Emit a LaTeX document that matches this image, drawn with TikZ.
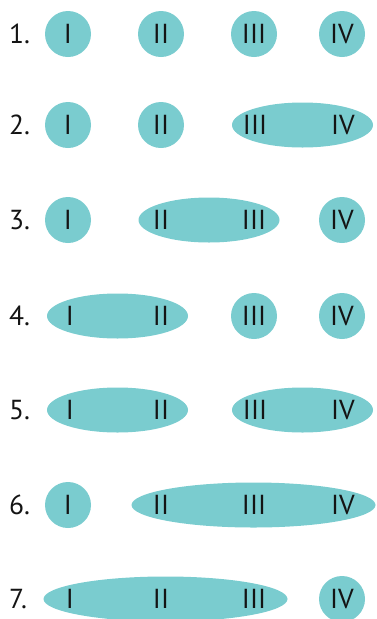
\documentclass[tikz,border=0pt]{standalone}
\usepackage{fontspec}
\setmainfont{PT Sans}
\usetikzlibrary{shapes.geometric}
\definecolor{teal1}{RGB}{122,204,207}
\definecolor{ink}{RGB}{20,20,20}
\tikzset{
  blob/.style={ellipse, fill=teal1, draw=none, inner sep=0pt, minimum height=45pt},
  circ/.style={blob, minimum width=46pt, minimum height=46pt},
  two/.style={blob, minimum width=141pt},
  three/.style={blob, minimum width=244pt},
  num/.style={text=ink, font=\fontsize{27.5}{27.5}\selectfont, inner sep=0pt},
  rowlab/.style={num, anchor=west}
}
\begin{document}
\begin{tikzpicture}[x=1pt,y=-1pt]
\useasboundingbox (0,0) rectangle (377,619);
% row 1
\node[rowlab] (r1) at (9,34) {1.};
\node[circ] (a1) at (68,34) {};
\node[circ] (b1) at (161,34) {};
\node[circ] (c1) at (254,34) {};
\node[circ] (d1) at (342,34) {};
\node[num] at (a1) {I};
\node[num] at (b1) {II};
\node[num] at (c1) {III};
\node[num] at (d1) {IV};
% row 2
\node[rowlab] (r2) at (9,125) {2.};
\node[circ] (a2) at (68,125) {};
\node[circ] (b2) at (161,125) {};
\node[two] (cd2) at (302.5,125) {};
\node[num] at (a2) {I};
\node[num] at (b2) {II};
\node[num] at (255,125) {III};
\node[num] at (343,125) {IV};
% row 3
\node[rowlab] (r3) at (9,220) {3.};
\node[circ] (a3) at (68,220) {};
\node[two] (bc3) at (209,220) {};
\node[circ] (d3) at (342,220) {};
\node[num] at (a3) {I};
\node[num] at (161,220) {II};
\node[num] at (254,220) {III};
\node[num] at (d3) {IV};
% row 4
\node[rowlab] (r4) at (9,316) {4.};
\node[two] (ab4) at (117.5,316) {};
\node[circ] (c4) at (254,316) {};
\node[circ] (d4) at (342,316) {};
\node[num] at (70,316) {I};
\node[num] at (161,316) {II};
\node[num] at (c4) {III};
\node[num] at (d4) {IV};
% row 5
\node[rowlab] (r5) at (9,410) {5.};
\node[two] (ab5) at (117.5,410) {};
\node[two] (cd5) at (302.5,410) {};
\node[num] at (70,410) {I};
\node[num] at (161,410) {II};
\node[num] at (255,410) {III};
\node[num] at (343,410) {IV};
% row 6
\node[rowlab] (r6) at (9,505) {6.};
\node[circ] (a6) at (68,505) {};
\node[three] (bcd6) at (253.5,505) {};
\node[num] at (a6) {I};
\node[num] at (161,505) {II};
\node[num] at (254,505) {III};
\node[num] at (343,505) {IV};
% row 7
\node[rowlab] (r7) at (9,599) {7.};
\node[three] (abc7) at (165.5,599) {};
\node[circ] (d7) at (342,599) {};
\node[num] at (70,599) {I};
\node[num] at (161,599) {II};
\node[num] at (254,599) {III};
\node[num] at (d7) {IV};
\end{tikzpicture}
\end{document}
